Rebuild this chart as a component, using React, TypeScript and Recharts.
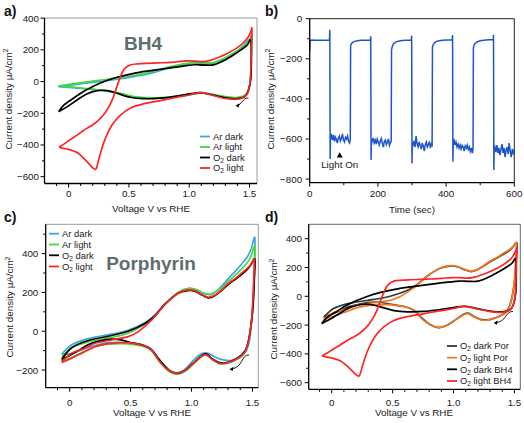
import React from "react";
import { LineChart, Line, XAxis, YAxis, ReferenceLine, ReferenceDot } from "recharts";

const FONT = '"Liberation Sans", Arial, Helvetica, sans-serif';

// a) BH4 cyclic voltammograms, [V vs RHE, µA/cm²]
const bh4ArDark = [
  [-0.085, -32], [0.0, -24], [0.12, -12], [0.25, 0], [0.4, 15], [0.55, 33], [0.68, 52], [0.81, 80],
  [0.95, 104], [1.05, 112], [1.13, 110], [1.2, 115], [1.27, 135], [1.34, 165], [1.41, 200], [1.46, 235],
  [1.5, 268], [1.52, 288], [1.515, 150], [1.51, 20], [1.49, -55], [1.46, -90], [1.4, -103], [1.33, -100],
  [1.25, -90], [1.17, -78], [1.1, -72], [1.04, -78], [0.98, -86], [0.9, -94], [0.82, -102], [0.68, -105],
  [0.54, -97], [0.4, -72], [0.25, -54], [0.12, -45], [0.03, -38], [-0.085, -32],
];
const bh4ArLight = [
  [-0.085, -28], [0.0, -18], [0.12, -5], [0.25, 8], [0.4, 22], [0.55, 40], [0.68, 60], [0.81, 88],
  [0.95, 112], [1.05, 120], [1.13, 118], [1.2, 120], [1.27, 140], [1.34, 168], [1.41, 200], [1.46, 230],
  [1.5, 262], [1.52, 280], [1.515, 150], [1.51, 20], [1.49, -55], [1.46, -88], [1.4, -100], [1.33, -98],
  [1.25, -88], [1.17, -77], [1.1, -72], [1.04, -78], [0.98, -86], [0.9, -92], [0.82, -100], [0.68, -102],
  [0.54, -95], [0.4, -68], [0.25, -52], [0.12, -42], [0.03, -35], [-0.085, -28],
];
const bh4O2Dark = [
  [-0.083, -190], [-0.04, -148], [0.04, -105], [0.12, -64], [0.21, -28], [0.29, -1], [0.4, 27], [0.54, 52],
  [0.68, 69], [0.82, 84], [0.95, 98], [1.05, 106], [1.12, 104], [1.2, 105], [1.28, 130], [1.36, 165],
  [1.43, 200], [1.48, 230], [1.51, 260], [1.515, 150], [1.51, 20], [1.49, -60], [1.46, -95], [1.4, -108],
  [1.33, -106], [1.25, -95], [1.17, -80], [1.1, -70], [1.05, -72], [1.0, -78], [0.9, -91], [0.76, -105],
  [0.62, -108], [0.51, -99], [0.4, -74], [0.32, -57], [0.24, -57], [0.15, -78], [0.07, -116], [-0.01, -158],
  [-0.083, -190],
];
const bh4O2Light = [
  [-0.08, -414], [-0.03, -390], [0.01, -368], [0.07, -338], [0.12, -310], [0.18, -282], [0.235, -253],
  [0.3, -200], [0.34, -150], [0.37, -100], [0.4, -32], [0.43, 31], [0.46, 78], [0.51, 105], [0.58, 112],
  [0.65, 115], [0.74, 118], [0.82, 120], [0.9, 125], [0.98, 130], [1.05, 129], [1.12, 126], [1.18, 135],
  [1.25, 155], [1.31, 176], [1.37, 200], [1.43, 232], [1.48, 270], [1.51, 315], [1.52, 332], [1.515, 200],
  [1.51, 60], [1.5, -30], [1.48, -80], [1.44, -105], [1.38, -112], [1.3, -107], [1.2, -88], [1.1, -70],
  [1.05, -74], [1.0, -85], [0.9, -99], [0.76, -120], [0.62, -141], [0.51, -168], [0.43, -211], [0.36, -274],
  [0.3, -368], [0.26, -463], [0.23, -547], [0.21, -550], [0.19, -537], [0.14, -495], [0.07, -448],
  [0.0, -428], [-0.04, -422], [-0.08, -414],
];

// b) chopped light chronoamperometry, [sec, µA/cm²]
const choppedLight = [
  [0, -160], [1, -112], [5, -106], [15, -108], [30, -108], [45, -107], [58, -106], [59, -55],
  [60, -700], [61, -600], [63, -575], [65, -590], [67, -605], [69, -580], [71, -600], [73, -612], [75, -590],
  [78, -600], [81, -620], [84, -595], [87, -585], [90, -610], [93, -598], [96, -575], [99, -605], [102, -615],
  [105, -592], [108, -600], [111, -585], [114, -612], [117, -620], [119, -600],
  [120, -135], [122, -125], [126, -118], [132, -113], [140, -110], [150, -108], [165, -107], [178, -106], [179, -88],
  [180, -705], [181, -600], [183, -612], [186, -595], [189, -620], [192, -605], [195, -625], [198, -600],
  [201, -615], [204, -630], [207, -610], [210, -598], [213, -622], [216, -640], [219, -612], [222, -605],
  [225, -628], [228, -615], [231, -600], [234, -632], [237, -618], [239, -610],
  [240, -155], [242, -140], [246, -125], [252, -117], [260, -112], [270, -109], [285, -107], [298, -106], [299, -85],
  [300, -722], [301, -620], [303, -630], [306, -610], [309, -640], [312, -585], [315, -625], [318, -640],
  [321, -615], [324, -632], [327, -650], [330, -620], [333, -635], [336, -660], [339, -628], [342, -615],
  [345, -640], [348, -630], [351, -612], [354, -645], [357, -625], [359, -630],
  [360, -140], [362, -130], [366, -120], [372, -113], [380, -110], [390, -108], [405, -106], [418, -105], [419, -82],
  [420, -713], [421, -620], [423, -600], [426, -630], [429, -615], [432, -640], [435, -625], [438, -645],
  [441, -630], [444, -650], [447, -632], [450, -640], [453, -660], [456, -635], [459, -645], [462, -630],
  [465, -652], [468, -640], [471, -662], [474, -645], [477, -670], [479, -650],
  [480, -145], [482, -132], [486, -122], [492, -115], [500, -110], [510, -107], [525, -105], [538, -104], [539, -80],
  [540, -755], [541, -650], [543, -640], [546, -665], [549, -630], [552, -670], [555, -645], [558, -680],
  [561, -650], [564, -625], [567, -670], [570, -645], [573, -690], [576, -655], [579, -640], [582, -675],
  [585, -620], [588, -660], [591, -690], [594, -650], [597, -670], [600, -655],
];
const lightOn = [88, -680];

// c) porphyrin cyclic voltammograms, [V vs RHE, µA/cm²]
const porArDark = [
  [-0.066, -118], [0.016, -70], [0.153, -38], [0.345, -15], [0.48, 5], [0.62, 45], [0.7, 85], [0.78, 140],
  [0.89, 200], [0.98, 220], [1.05, 210], [1.1, 195], [1.16, 190], [1.22, 215], [1.3, 270], [1.36, 310],
  [1.41, 345], [1.46, 385], [1.49, 425], [1.52, 482], [1.515, 330], [1.505, 150], [1.49, 30], [1.475, -50],
  [1.45, -100], [1.4, -135], [1.33, -150], [1.26, -148], [1.2, -135], [1.15, -118], [1.11, -112], [1.06, -125],
  [1.0, -160], [0.94, -200], [0.88, -215], [0.81, -198], [0.74, -150], [0.67, -92], [0.6, -70], [0.5, -60],
  [0.4, -57], [0.3, -60], [0.2, -75], [0.1, -95], [0.016, -115], [-0.066, -118],
];
const porArLight = [
  [-0.066, -132], [0.016, -85], [0.153, -55], [0.345, -32], [0.48, -10], [0.6, 30], [0.7, 80], [0.78, 138],
  [0.89, 200], [0.98, 222], [1.05, 212], [1.1, 196], [1.16, 192], [1.22, 212], [1.3, 255], [1.36, 290],
  [1.41, 320], [1.46, 355], [1.49, 390], [1.52, 435], [1.515, 300], [1.505, 140], [1.49, 35], [1.47, -45],
  [1.44, -105], [1.38, -142], [1.3, -163], [1.23, -168], [1.17, -147], [1.125, -124], [1.09, -128],
  [1.03, -160], [0.95, -205], [0.88, -222], [0.81, -205], [0.74, -160], [0.67, -100], [0.59, -76],
  [0.48, -65], [0.39, -65], [0.3, -68], [0.21, -80], [0.1, -110], [0.016, -135], [-0.066, -150],
];
const porO2Dark = [
  [-0.066, -145], [0.016, -85], [0.153, -48], [0.345, -22], [0.48, 0], [0.618, 40], [0.7, 80], [0.78, 138],
  [0.89, 195], [0.974, 210], [1.03, 205], [1.09, 185], [1.14, 172], [1.19, 183], [1.25, 212], [1.3, 240],
  [1.36, 268], [1.41, 292], [1.46, 320], [1.49, 345], [1.52, 370], [1.515, 260], [1.505, 130], [1.49, 40],
  [1.47, -40], [1.44, -100], [1.38, -137], [1.3, -160], [1.23, -162], [1.17, -142], [1.125, -118],
  [1.09, -122], [1.03, -155], [0.95, -200], [0.88, -217], [0.81, -198], [0.74, -150], [0.67, -95],
  [0.6, -72], [0.5, -58], [0.42, -45], [0.345, -41], [0.25, -50], [0.15, -70], [0.07, -100], [0.0, -125],
  [-0.066, -145],
];
const porO2Light = [
  [-0.066, -157], [0.016, -113], [0.126, -88], [0.208, -62], [0.345, -45], [0.48, -28], [0.563, -2],
  [0.673, 58], [0.78, 136], [0.89, 196], [0.974, 213], [1.03, 208], [1.09, 188], [1.14, 175], [1.19, 185],
  [1.25, 215], [1.3, 245], [1.36, 272], [1.41, 299], [1.46, 325], [1.49, 348], [1.515, 368], [1.51, 250],
  [1.5, 120], [1.49, 40], [1.47, -45], [1.44, -105], [1.38, -139], [1.3, -162], [1.23, -165], [1.17, -144],
  [1.125, -122], [1.09, -125], [1.03, -157], [0.95, -200], [0.88, -217], [0.81, -200], [0.74, -157],
  [0.67, -96], [0.59, -71], [0.48, -59], [0.39, -60], [0.3, -65], [0.21, -79], [0.1, -113], [0.016, -139],
  [-0.066, -162],
];

// ticks
const cvMajorV = [0, 0.5, 1, 1.5];
const cvMinorV = [-0.1, 0.1, 0.2, 0.3, 0.4, 0.6, 0.7, 0.8, 0.9, 1.1, 1.2, 1.3, 1.4];
const aMajorJ = [-600, -400, -200, 0, 200, 400];
const aMinorJ = [-500, -300, -100, 100, 300];
const bMajorT = [0, 200, 400, 600];
const bMinorT = [100, 300, 500];
const bMajorJ = [-800, -600, -400, -200, 0];
const bMinorJ = [-700, -500, -300, -100];
const cMajorJ = [-200, 0, 200, 400];
const cMinorJ = [-100, 100, 300, 500];

const C_AR_DARK = "#3aa6e8";
const C_AR_LIGHT = "#45d93a";
const C_O2_DARK = "#000000";
const C_O2_LIGHT = "#ff2424";
const C_POR_DARK = "#27393a";
const C_POR_LIGHT = "#f47a1f";
const C_CA = "#1f55c8";

const toPts = (arr: number[][]) => arr.map(([x, y]) => ({ x, y }));

// parametric Catmull-Rom so closed CV loops stay smooth
function catmullRom(context: any) {
  let pts: number[][] = [];
  return {
    areaStart() {},
    areaEnd() {},
    lineStart() {
      pts = [];
    },
    lineEnd() {
      const n = pts.length;
      if (!n) return;
      context.moveTo(pts[0][0], pts[0][1]);
      for (let i = 0; i < n - 1; i++) {
        const p0 = pts[Math.max(0, i - 1)];
        const p1 = pts[i];
        const p2 = pts[i + 1];
        const p3 = pts[Math.min(n - 1, i + 2)];
        context.bezierCurveTo(
          p1[0] + (p2[0] - p0[0]) / 6,
          p1[1] + (p2[1] - p0[1]) / 6,
          p2[0] - (p3[0] - p1[0]) / 6,
          p2[1] - (p3[1] - p1[1]) / 6,
          p2[0],
          p2[1]
        );
      }
    },
    point(x: number, y: number) {
      pts.push([+x, +y]);
    },
  };
}

const fmtV = (v: number) => (v === 0 ? "0" : v.toFixed(1));
const fmtInt = (v: number) => (v < 0 ? `\u2212${Math.abs(v)}` : `${v}`);
const isMajor = (majors: number[], v: number) => majors.some((m) => Math.abs(m - v) < 1e-9);

function makeXTick(majors: number[], fmt: (v: number) => string, gap: number) {
  return (props: any) => {
    const { x, y, payload } = props;
    const major = isMajor(majors, payload.value);
    return (
      <g>
        <line x1={x} x2={x} y1={y} y2={y + (major ? 4 : 2.5)} stroke="#000" strokeWidth={1} />
        {major && (
          <text x={x} y={y + gap} textAnchor="middle" fontSize={9.8} fontFamily={FONT} fill="#1a1a1a">
            {fmt(payload.value)}
          </text>
        )}
      </g>
    );
  };
}

function makeYTick(majors: number[], gap: number) {
  return (props: any) => {
    const { x, y, payload } = props;
    const major = isMajor(majors, payload.value);
    return (
      <g>
        <line x1={x} x2={x - (major ? 4 : 2.5)} y1={y} y2={y} stroke="#000" strokeWidth={1} />
        {major && (
          <text x={x - gap} y={y + 3.5} textAnchor="end" fontSize={9.8} fontFamily={FONT} fill="#1a1a1a">
            {fmtInt(payload.value)}
          </text>
        )}
      </g>
    );
  };
}

type Series = { key: string; color: string; data: number[][]; curve?: any; width?: number };

interface PanelProps {
  left: number;
  top: number;
  width: number;
  height: number;
  frame: number[];
  xDomain: number[];
  yDomain: number[];
  xMajor: number[];
  xMinor: number[];
  yMajor: number[];
  yMinor: number[];
  xFmt: (v: number) => string;
  xGap: number;
  yGap: number;
  frameColor: string;
  series: Series[];
  children?: React.ReactNode;
}

function Panel(p: PanelProps) {
  const [fl, ft, fr, fb] = p.frame;
  const margin = { top: ft - p.top, right: p.left + p.width - fr, bottom: 0, left: 0 };
  return (
    <div style={{ position: "absolute", left: p.left, top: p.top }}>
      <LineChart width={p.width} height={p.height} margin={margin}>
        <XAxis
          type="number"
          dataKey="x"
          domain={p.xDomain}
          allowDataOverflow
          ticks={[...p.xMajor, ...p.xMinor]}
          interval={0}
          height={p.top + p.height - fb}
          tickSize={0}
          tickMargin={0}
          tickLine={false}
          axisLine={{ stroke: "#000", strokeWidth: 1.3 }}
          tick={makeXTick(p.xMajor, p.xFmt, p.xGap)}
        />
        <YAxis
          type="number"
          domain={p.yDomain}
          allowDataOverflow
          ticks={[...p.yMajor, ...p.yMinor]}
          interval={0}
          width={fl - p.left}
          tickSize={0}
          tickMargin={0}
          tickLine={false}
          axisLine={{ stroke: "#000", strokeWidth: 1.3 }}
          tick={makeYTick(p.yMajor, p.yGap)}
        />
        <ReferenceLine y={p.yDomain[1]} stroke={p.frameColor} strokeWidth={1} ifOverflow="visible" />
        <ReferenceLine x={p.xDomain[1]} stroke={p.frameColor} strokeWidth={1} ifOverflow="visible" />
        {p.series.map((s) => (
          <Line
            key={s.key}
            data={toPts(s.data)}
            dataKey="y"
            type={s.curve ?? catmullRom}
            stroke={s.color}
            strokeWidth={s.width ?? 1.7}
            dot={false}
            activeDot={false}
            isAnimationActive={false}
          />
        ))}
        {p.children}
      </LineChart>
    </div>
  );
}

function LegendRows({ x, rows }: { x: number; rows: { y: number; color: string; label: React.ReactNode }[] }) {
  return (
    <g>
      {rows.map((r, i) => (
        <g key={i}>
          <line x1={x} x2={x + 10} y1={r.y} y2={r.y} stroke={r.color} strokeWidth={1.8} />
          <text x={x + 13} y={r.y + 3.4} fontSize={9.4} fontFamily={FONT} fill="#1a1a1a">
            {r.label}
          </text>
        </g>
      ))}
    </g>
  );
}

const O2 = (rest: string) => (
  <>
    O<tspan fontSize={6.5} dy={1.8}>2</tspan>
    <tspan dy={-1.8}>{rest}</tspan>
  </>
);

function Arrow({ d, tip }: { d: string; tip: number[] }) {
  const [x, y] = tip;
  return (
    <g>
      <path d={d} fill="none" stroke="#000" strokeWidth={0.9} />
      <path d={`M${x},${y} L${x + 4},${y - 2.5} L${x + 3.2},${y + 1.8} Z`} fill="#000" />
    </g>
  );
}

const yTitle = (x: number, y: number) => (
  <text transform={`translate(${x},${y}) rotate(-90)`} textAnchor="middle" fontSize={9.8} fontFamily={FONT} fill="#1a1a1a">
    Current density μA/cm<tspan fontSize={7} dy={-3.5}>2</tspan>
  </text>
);

export default function App() {
  return (
    <div style={{ position: "absolute", left: 0, top: 0, width: 524, height: 423, background: "#fff", overflow: "hidden" }}>
      <Panel
        left={0}
        top={0}
        width={262}
        height={211}
        frame={[44.5, 18, 257, 183.5]}
        xDomain={[-0.2, 1.562]}
        yDomain={[-643, 401]}
        xMajor={cvMajorV}
        xMinor={cvMinorV}
        yMajor={aMajorJ}
        yMinor={aMinorJ}
        xFmt={fmtV}
        xGap={13}
        yGap={5.5}
        frameColor="#9a9a9a"
        series={[
          { key: "ard", color: C_AR_DARK, data: bh4ArDark },
          { key: "arl", color: C_AR_LIGHT, data: bh4ArLight },
          { key: "o2d", color: C_O2_DARK, data: bh4O2Dark },
          { key: "o2l", color: C_O2_LIGHT, data: bh4O2Light },
        ]}
      />
      <Panel
        left={262}
        top={0}
        width={262}
        height={211}
        frame={[309.7, 18.7, 514.3, 182.7]}
        xDomain={[0, 600]}
        yDomain={[-818, 0]}
        xMajor={bMajorT}
        xMinor={bMinorT}
        yMajor={bMajorJ}
        yMinor={bMinorJ}
        xFmt={(v) => `${v}`}
        xGap={14.5}
        yGap={7.5}
        frameColor="#222"
        series={[{ key: "ca", color: C_CA, data: choppedLight, curve: "linear", width: 1.5 }]}
      >
        <ReferenceDot
          x={lightOn[0]}
          y={lightOn[1]}
          ifOverflow="visible"
          shape={(props: any) => {
            const { cx, cy } = props;
            return (
              <g>
                <path d={`M${cx - 3},${cy + 2.5} L${cx + 3},${cy + 2.5} L${cx},${cy - 2.8} Z`} fill="#000" />
                <text x={cx} y={cy + 13} textAnchor="middle" fontSize={9.8} fontFamily={FONT} fill="#1a1a1a">
                  Light On
                </text>
              </g>
            );
          }}
        />
      </Panel>
      <Panel
        left={0}
        top={211}
        width={262}
        height={212}
        frame={[45.7, 224.3, 258.3, 387.7]}
        xDomain={[-0.197, 1.548]}
        yDomain={[-291, 551]}
        xMajor={cvMajorV}
        xMinor={cvMinorV}
        yMajor={cMajorJ}
        yMinor={cMinorJ}
        xFmt={fmtV}
        xGap={18}
        yGap={7.4}
        frameColor="#9a9a9a"
        series={[
          { key: "ard", color: C_AR_DARK, data: porArDark },
          { key: "arl", color: C_AR_LIGHT, data: porArLight },
          { key: "o2d", color: C_O2_DARK, data: porO2Dark },
          { key: "o2l", color: C_O2_LIGHT, data: porO2Light },
        ]}
      />
      <Panel
        left={262}
        top={211}
        width={262}
        height={212}
        frame={[308.7, 224.3, 520.3, 389.3]}
        xDomain={[-0.189, 1.548]}
        yDomain={[-646, 500]}
        xMajor={cvMajorV}
        xMinor={cvMinorV}
        yMajor={aMajorJ}
        yMinor={aMinorJ}
        xFmt={fmtV}
        xGap={16.7}
        yGap={6.7}
        frameColor="#666"
        series={[
          { key: "pd", color: C_POR_DARK, data: porO2Dark },
          { key: "pl", color: C_POR_LIGHT, data: porO2Light },
          { key: "bd", color: C_O2_DARK, data: bh4O2Dark },
          { key: "bl", color: C_O2_LIGHT, data: bh4O2Light },
        ]}
      />
      <svg width={524} height={423} style={{ position: "absolute", left: 0, top: 0, pointerEvents: "none" }}>
        <g fontFamily={FONT} fontWeight="bold" fontSize={14} fill="#111">
          <text x={4} y={16}>a)</text>
          <text x={265} y={16}>b)</text>
          <text x={4} y={222}>c)</text>
          <text x={265} y={222}>d)</text>
        </g>
        <g fontFamily={FONT} fontWeight="bold" fontSize={19} fill="#5e6e6e">
          <text x={143} y={50} textAnchor="middle">BH4</text>
          <text x={151} y={270} textAnchor="middle">Porphyrin</text>
        </g>
        {yTitle(11.5, 99)}
        {yTitle(273.5, 99)}
        {yTitle(13, 307)}
        {yTitle(277, 309)}
        <g fontFamily={FONT} fontSize={9.8} fill="#1a1a1a" textAnchor="middle">
          <text x={151} y={211.5}>Voltage V vs RHE</text>
          <text x={412} y={212.5}>Time (sec)</text>
          <text x={152} y={415.5}>Voltage V vs RHE</text>
          <text x={414} y={415.5}>Voltage V vs RHE</text>
        </g>
        <LegendRows
          x={200}
          rows={[
            { y: 136.5, color: C_AR_DARK, label: "Ar dark" },
            { y: 147, color: C_AR_LIGHT, label: "Ar light" },
            { y: 157.5, color: C_O2_DARK, label: O2(" dark") },
            { y: 168, color: C_O2_LIGHT, label: O2(" light") },
          ]}
        />
        <LegendRows
          x={49}
          rows={[
            { y: 233.7, color: C_AR_DARK, label: "Ar dark" },
            { y: 244.5, color: C_AR_LIGHT, label: "Ar light" },
            { y: 255.3, color: C_O2_DARK, label: O2(" dark") },
            { y: 266.5, color: C_O2_LIGHT, label: O2(" light") },
          ]}
        />
        <LegendRows
          x={447}
          rows={[
            { y: 346, color: C_POR_DARK, label: O2(" dark Por") },
            { y: 357.7, color: C_POR_LIGHT, label: O2(" light Por") },
            { y: 369.3, color: C_O2_DARK, label: O2(" dark BH4") },
            { y: 381, color: C_O2_LIGHT, label: O2(" light BH4") },
          ]}
        />
        <Arrow d="M248.5,98 C242,97.5 243,105 236.5,105.5" tip={[235.5, 105.8]} />
        <Arrow d="M249,355 C241,354.5 243,368 231,369" tip={[229.5, 369.3]} />
        <Arrow d="M513,311.5 C505,311 507,322 495,322.7" tip={[493.7, 322.9]} />
      </svg>
    </div>
  );
}
